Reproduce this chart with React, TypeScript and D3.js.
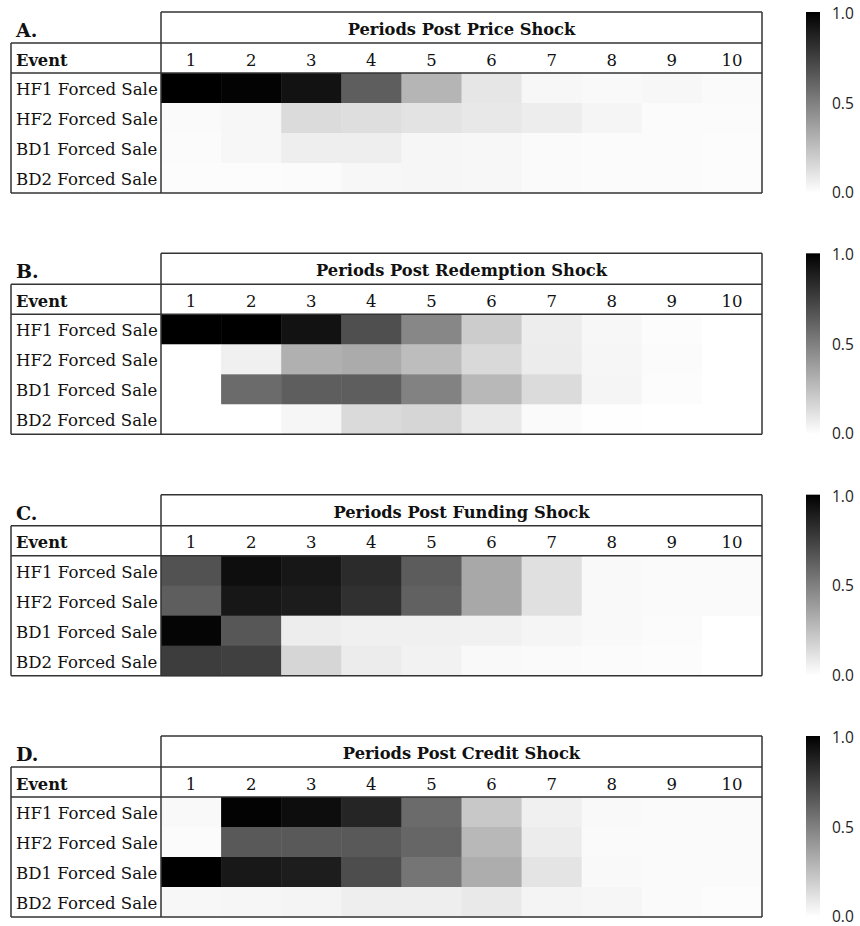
import * as d3 from "d3";

const events = ["HF1 Forced Sale", "HF2 Forced Sale", "BD1 Forced Sale", "BD2 Forced Sale"];
const periods = ["1", "2", "3", "4", "5", "6", "7", "8", "9", "10"];
const panelLetters = ["A.", "B.", "C.", "D."];
const shockTitles = [
  "Periods Post Price Shock",
  "Periods Post Redemption Shock",
  "Periods Post Funding Shock",
  "Periods Post Credit Shock",
];
const colorTicks = [0, 0.5, 1];

// share of forced sales, one row per event, one value per period
const priceShock = [
  [1.0, 0.99, 0.93, 0.63, 0.29, 0.1, 0.03, 0.025, 0.03, 0.02],
  [0.02, 0.03, 0.14, 0.13, 0.11, 0.09, 0.07, 0.04, 0.015, 0.015],
  [0.015, 0.03, 0.065, 0.065, 0.035, 0.03, 0.02, 0.015, 0.015, 0.01],
  [0.01, 0.01, 0.015, 0.03, 0.035, 0.03, 0.02, 0.015, 0.015, 0.01],
];
const redemptionShock = [
  [1.0, 1.0, 0.93, 0.69, 0.47, 0.2, 0.07, 0.03, 0.01, 0],
  [0, 0.06, 0.31, 0.33, 0.26, 0.15, 0.075, 0.035, 0.015, 0],
  [0, 0.58, 0.63, 0.63, 0.49, 0.28, 0.14, 0.04, 0.01, 0],
  [0, 0, 0.035, 0.145, 0.16, 0.085, 0.02, 0.005, 0, 0],
];
const fundingShock = [
  [0.68, 0.945, 0.91, 0.83, 0.64, 0.34, 0.12, 0.025, 0.02, 0.02],
  [0.63, 0.91, 0.89, 0.81, 0.62, 0.34, 0.12, 0.025, 0.02, 0.02],
  [0.98, 0.66, 0.07, 0.06, 0.06, 0.055, 0.04, 0.025, 0.015, 0],
  [0.76, 0.75, 0.16, 0.075, 0.05, 0.025, 0.02, 0.015, 0.01, 0],
];
const creditShock = [
  [0.025, 0.99, 0.95, 0.855, 0.58, 0.215, 0.06, 0.025, 0.02, 0.02],
  [0.015, 0.65, 0.65, 0.65, 0.6, 0.28, 0.075, 0.02, 0.02, 0.02],
  [1.0, 0.905, 0.885, 0.7, 0.54, 0.32, 0.105, 0.025, 0.02, 0.02],
  [0.03, 0.035, 0.045, 0.065, 0.065, 0.085, 0.045, 0.035, 0.02, 0.01],
];
const panels = [priceShock, redemptionShock, fundingShock, creditShock];

const W = 860;
const H = 926;
const serif = "'DejaVu Serif', serif";
const sans = "'Open Sans', sans-serif";
const lineColor = "#333";

// table geometry
const tableLeft = 11;
const splitX = 161;
const tableRight = 762;
const titleH = 31;
const headH = 30;
const rowH = 30;
const panelH = titleH + headH + rowH * events.length;

const panelY = d3.scalePoint<number>().domain([0, 1, 2, 3]).range([12, 736]);
const xScale = d3.scaleBand<string>().domain(periods).range([splitX, tableRight]);
const yScale = d3
  .scaleBand<string>()
  .domain(events)
  .range([titleH + headH, panelH]);
const color = d3.scaleLinear<string>().domain([0, 1]).range(["#ffffff", "#000000"]).clamp(true);

const cbX = 806;
const cbW = 14;
const cbScale = d3.scaleLinear().domain([0, 1]).range([panelH - 1, 1]);

const Panel = ({ idx }: { idx: number }) => {
  const data = panels[idx];
  const top = panelY(idx) as number;
  return (
    <g transform={`translate(0,${top})`}>
      {/* cells */}
      {events.map((ev, r) =>
        periods.map((p, c) => (
          <rect
            key={ev + p}
            x={xScale(p)}
            y={yScale(ev)}
            width={xScale.bandwidth() + 0.5}
            height={yScale.bandwidth() + 0.5}
            fill={color(data[r][c])}
          />
        ))
      )}

      {/* panel letter + title */}
      <text x={16} y={titleH - 6} fontFamily={serif} fontWeight="bold" fontSize={19} fill="#111">
        {panelLetters[idx]}
      </text>
      <text
        x={(splitX + tableRight) / 2}
        y={titleH / 2 + 2}
        textAnchor="middle"
        dominantBaseline="central"
        fontFamily={serif}
        fontWeight="bold"
        fontSize={16.3}
        fill="#111"
      >
        {shockTitles[idx]}
      </text>

      {/* header row */}
      <text
        x={16}
        y={titleH + headH / 2 + 2}
        dominantBaseline="central"
        fontFamily={serif}
        fontWeight="bold"
        fontSize={16.3}
        fill="#111"
      >
        Event
      </text>
      {periods.map((p) => (
        <text
          key={p}
          x={(xScale(p) as number) + xScale.bandwidth() / 2}
          y={titleH + headH / 2 + 2}
          textAnchor="middle"
          dominantBaseline="central"
          fontFamily={serif}
          fontSize={16.5}
          fill="#111"
        >
          {p}
        </text>
      ))}

      {/* row labels */}
      {events.map((ev) => (
        <text
          key={ev}
          x={16}
          y={(yScale(ev) as number) + yScale.bandwidth() / 2 + 1.5}
          dominantBaseline="central"
          fontFamily={serif}
          fontSize={16.6}
          fill="#111"
        >
          {ev}
        </text>
      ))}

      {/* borders */}
      <g stroke={lineColor} strokeWidth={1.5} fill="none">
        <line x1={splitX} x2={tableRight} y1={0} y2={0} />
        <line x1={tableLeft} x2={tableRight} y1={titleH} y2={titleH} />
        <line x1={tableLeft} x2={tableRight} y1={titleH + headH} y2={titleH + headH} />
        <line x1={tableLeft} x2={tableRight} y1={panelH} y2={panelH} />
        <line x1={tableLeft} x2={tableLeft} y1={titleH} y2={panelH} />
        <line x1={splitX} x2={splitX} y1={0} y2={panelH} />
        <line x1={tableRight} x2={tableRight} y1={0} y2={panelH} />
      </g>

      {/* colour bar */}
      <rect x={cbX} y={0} width={cbW} height={panelH} fill="url(#greyBar)" />
      {colorTicks.map((t) => (
        <text
          key={t}
          x={832}
          y={cbScale(t)}
          dominantBaseline="central"
          fontFamily={sans}
          fontSize={15.5}
          fill="#222"
        >
          {d3.format(".1f")(t)}
        </text>
      ))}
    </g>
  );
};

export default function App() {
  const stops = d3.range(0, 1.0001, 0.1);
  return (
    <svg
      width={W}
      height={H}
      viewBox={`0 0 ${W} ${H}`}
      style={{ position: "absolute", left: 0, top: 0, background: "#fff" }}
    >
      <defs>
        <linearGradient id="greyBar" x1="0" y1="1" x2="0" y2="0">
          {stops.map((s) => (
            <stop key={s} offset={s} stopColor={color(s)} />
          ))}
        </linearGradient>
      </defs>
      <rect width={W} height={H} fill="#fff" />
      {panels.map((_, i) => (
        <Panel key={i} idx={i} />
      ))}
    </svg>
  );
}
